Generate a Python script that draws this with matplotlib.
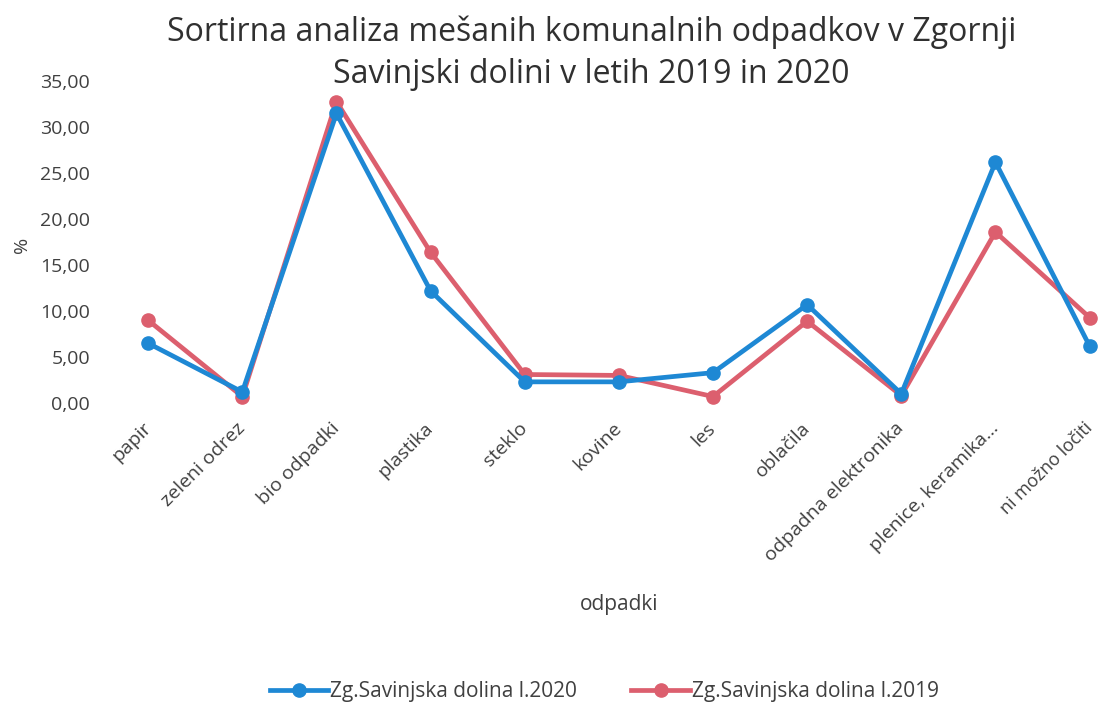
import matplotlib.pyplot as plt

categories = ["papir", "zeleni odrez", "bio odpadki", "plastika", "steklo", "kovine",
              "les", "oblačila", "odpadna elektronika", "plenice, keramika...", "ni možno ločiti"]
val_2020 = [6.5, 1.2, 31.5, 12.2, 2.3, 2.3, 3.3, 10.7, 1.0, 26.2, 6.2]
val_2019 = [9.0, 0.7, 32.8, 16.4, 3.1, 3.0, 0.7, 8.9, 0.8, 18.6, 9.3]
yticks = [0, 5, 10, 15, 20, 25, 30, 35]

plt.rcParams['font.family'] = ['Open Sans', 'DejaVu Sans']
txt = '#404040'

fig = plt.figure(figsize=(10.99, 7.07), dpi=100)
ax = fig.add_axes([0.092, 0.43, 0.908, 0.455])

x = list(range(len(categories)))
ax.plot(x, val_2020, color='#1e88d4', lw=3.4, marker='o', ms=9.5, clip_on=False,
        label='Zg.Savinjska dolina l.2020', zorder=3)
ax.plot(x, val_2019, color='#dc5f6e', lw=3.4, marker='o', ms=9.5, clip_on=False,
        label='Zg.Savinjska dolina l.2019', zorder=2)

ax.set_xlim(-0.5, 10.1)
ax.set_ylim(0, 35)
ax.set_yticks(yticks)
ax.set_yticklabels([f"{v:.2f}".replace('.', ',') for v in yticks], fontsize=14, color=txt)
ax.set_xticks(x)
ax.set_xticklabels(categories, rotation=45, ha='right', va='center', rotation_mode='anchor',
                   fontsize=14, color=txt)
ax.tick_params(axis='x', length=0, pad=16)
ax.tick_params(axis='y', length=0, pad=8)
# last label sits at the right edge, keep it inside
ax.get_xticklabels()[-1].set_fontsize(13)
for s in ax.spines.values():
    s.set_visible(False)

fig.text(0.538, 0.955, "Sortirna analiza mešanih komunalnih odpadkov v Zgornji",
         ha='center', va='center', fontsize=23, color='#303030')
fig.text(0.538, 0.894, "Savinjski dolini v letih 2019 in 2020",
         ha='center', va='center', fontsize=23, color='#303030')
fig.text(0.02, 0.653, "%", rotation=90, ha='center', va='center', fontsize=14, color=txt)
fig.text(0.563, 0.145, "odpadki", ha='center', va='center', fontsize=15, color=txt)

fig.legend(loc='center', bbox_to_anchor=(0.55, 0.022), ncol=2, frameon=False,
           fontsize=15, handlelength=2.8, columnspacing=2.6, handletextpad=0.1,
           labelcolor=txt)

fig.savefig("out.png", dpi=100)
